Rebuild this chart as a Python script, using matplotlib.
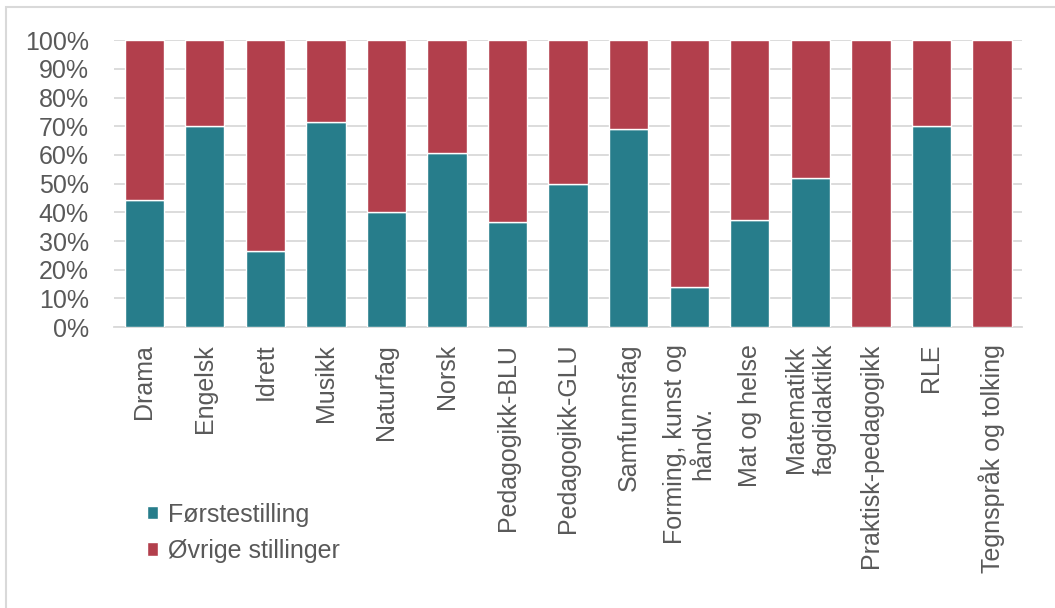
import numpy as np
import matplotlib.pyplot as plt
from matplotlib.patches import Rectangle

plt.rcParams['font.family'] = ['Liberation Sans', 'DejaVu Sans']

# data (andeler i prosent)
fag = ["Drama", "Engelsk", "Idrett", "Musikk", "Naturfag", "Norsk",
       "Pedagogikk-BLU", "Pedagogikk-GLU", "Samfunnsfag",
       "Forming, kunst og\nhåndv.", "Mat og helse",
       "Matematikk\nfagdidaktikk", "Praktisk-pedagogikk", "RLE",
       "Tegnspråk og tolking"]
forste = [44.4, 70.0, 26.5, 71.4, 40.0, 60.8, 36.6, 50.0, 69.2, 14.0,
          37.2, 52.1, 0.0, 70.0, 0.0]
ovrige = [100 - v for v in forste]

teal = "#277D8B"
red = "#B23F4C"
grey_txt = "#595959"

fig = plt.figure(figsize=(10.55, 6.08), dpi=100)
ax = fig.add_axes([0.108, 0.462, 0.861, 0.472])

x = np.arange(len(fag))
ax.bar(x, forste, width=0.65, color=teal, edgecolor="white", linewidth=1,
       label="Førstestilling", zorder=3)
ax.bar(x, ovrige, bottom=forste, width=0.65, color=red, edgecolor="white",
       linewidth=1, label="Øvrige stillinger", zorder=3)

ax.set_xlim(-0.5, len(fag) - 0.5)
ax.set_ylim(0, 100)
ax.set_yticks(np.arange(0, 101, 10))
ax.set_yticklabels([f"{v}%" for v in range(0, 101, 10)])
ax.set_xticks(x)
ax.set_xticklabels(fag, rotation=90, ha="center", va="top",
                   multialignment="center")
ax.tick_params(axis="both", length=0, labelsize=18, labelcolor=grey_txt)
ax.tick_params(axis="x", pad=12)
ax.tick_params(axis="y", pad=18)
ax.yaxis.grid(True, color="#D9D9D9", linewidth=1.3, zorder=0)
for s in ["top", "right", "left"]:
    ax.spines[s].set_visible(False)
ax.spines["bottom"].set_color("#D9D9D9")
ax.spines["bottom"].set_linewidth(1.3)

fig.legend(loc="lower left", bbox_to_anchor=(0.118, 0.037), frameon=False,
           fontsize=18, labelcolor=grey_txt, handlelength=0.45,
           handleheight=0.45, handletextpad=0.4, labelspacing=0.5)

# ramme rundt figuren
fig.patches.append(Rectangle((6 / 1055, -0.1), 1.2, 1 - 7 / 608 + 0.1,
                             transform=fig.transFigure, fill=False,
                             edgecolor="#D9D9D9", linewidth=1.5))

fig.savefig("out.png", dpi=100)
